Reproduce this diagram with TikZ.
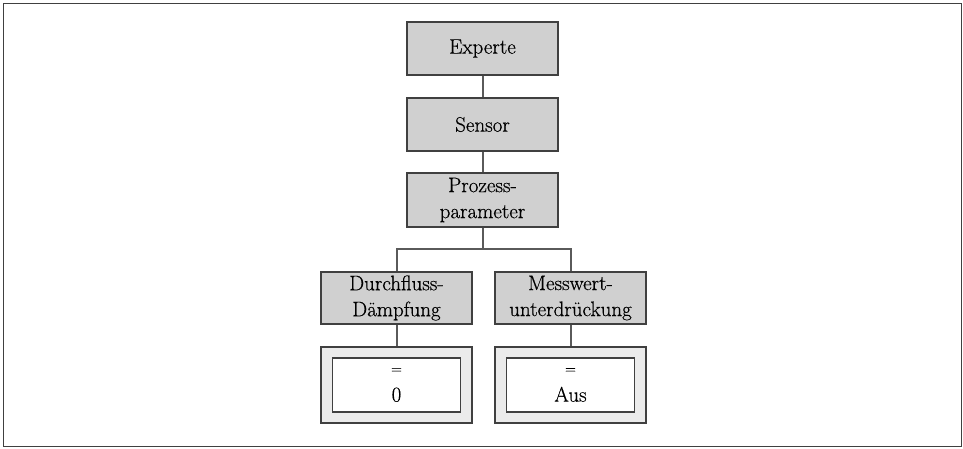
\documentclass[tikz,border=0pt]{standalone}
\usepackage{fontspec}
\usepackage{tikz}
\newfontfamily\boxfont{Latin Modern Roman}[FakeBold=0.5]
\definecolor{boxgray}{HTML}{D0D0D0}
\definecolor{valgray}{HTML}{EBEBEB}
\definecolor{edgegray}{HTML}{404040}
\definecolor{linegray}{HTML}{5A5A5A}
\tikzset{
  menubox/.style={draw=edgegray, line width=1.4pt, fill=boxgray, minimum width=151pt, minimum height=53pt, inner sep=0pt, align=center, font=\boxfont\fontsize{21}{26}\selectfont},
  valouter/.style={draw=edgegray, line width=1.4pt, fill=valgray, minimum width=151pt, minimum height=76pt, inner sep=0pt},
  valinner/.style={draw=edgegray, line width=1.4pt, fill=white, minimum width=128pt, minimum height=54pt, inner sep=0pt, align=center, font=\boxfont\fontsize{21}{28}\selectfont},
  conn/.style={draw=linegray, line width=2pt},
}
\newcommand{\smalleq}{{\fontsize{15}{15}\selectfont =}}
\begin{document}
\begin{tikzpicture}[x=1pt,y=-1pt]
\useasboundingbox (0,0) rectangle (963,448);
\draw[draw=edgegray, line width=1.6pt] (3.5,3.5) rectangle (961.5,446.5);
\node[menubox] (ex) at (482.5,48.5) {Experte};
\node[menubox] (se) at (482.5,124.5) {Sensor};
\node[menubox, minimum height=54pt] (pp) at (482.5,200) {Prozess-\\parameter};
\coordinate (br) at (482.5,249);
\node[menubox, minimum height=52pt] (df) at (396.5,298) {Durchfluss-\\Dämpfung};
\node[menubox, minimum height=52pt] (mw) at (570.5,298) {Messwert-\\unterdrückung};
\node[valouter] (v1) at (396.5,385) {};
\node[valinner] (i1) at (396.5,385) {\smalleq\\0};
\node[valouter] (v2) at (570.5,385) {};
\node[valinner] (i2) at (570.5,385) {\smalleq\\Aus};
\draw[conn] (ex.south) -- (se.north);
\draw[conn] (se.south) -- (pp.north);
\draw[conn] (pp.south) -- (br);
\draw[conn] (br) -| (df.north);
\draw[conn] (br) -| (mw.north);
\draw[conn] (df.south) -- (v1.north);
\draw[conn] (mw.south) -- (v2.north);
\end{tikzpicture}
\end{document}
